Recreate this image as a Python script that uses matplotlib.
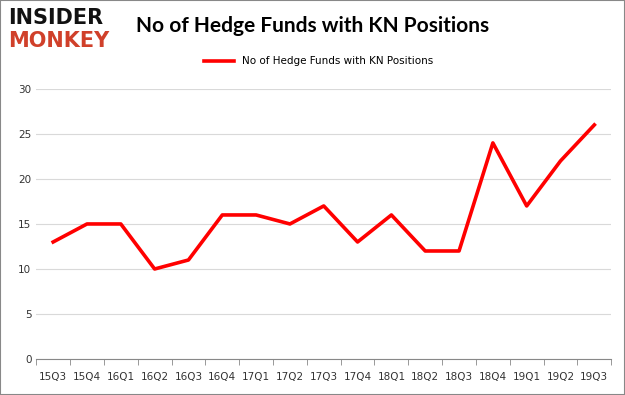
import matplotlib
matplotlib.use('Agg')
import matplotlib.pyplot as plt
from matplotlib.patches import Rectangle

quarters = ['15Q3', '15Q4', '16Q1', '16Q2', '16Q3', '16Q4', '17Q1', '17Q2', '17Q3',
            '17Q4', '18Q1', '18Q2', '18Q3', '18Q4', '19Q1', '19Q2', '19Q3']
funds = [13, 15, 15, 10, 11, 16, 16, 15, 17, 13, 16, 12, 12, 24, 17, 22, 26]
series_name = 'No of Hedge Funds with KN Positions'
title = 'No of Hedge Funds with KN Positions'

fig = plt.figure(figsize=(6.25, 3.95), dpi=100)
ax = fig.add_axes([0.058, 0.091, 0.92, 0.684])
x = range(len(quarters))
ax.plot(x, funds, color='#ff0000', lw=2.6, label=series_name)
ax.set_xlim(-0.5, len(quarters) - 0.5)
ax.set_ylim(0, 30)
ax.set_yticks(range(0, 31, 5))
ax.set_xticks([i - 0.5 for i in range(len(quarters) + 1)], minor=True)
ax.set_xticks(list(x))
ax.set_xticklabels(quarters)
ax.tick_params(axis='x', which='major', length=0, pad=9, labelsize=7.5, colors='#333333')
ax.tick_params(axis='x', which='minor', length=4, color='#888888')
ax.tick_params(axis='y', length=0, labelsize=7.5, colors='#333333')
ax.grid(axis='y', color='#d9d9d9', lw=0.8)
ax.set_axisbelow(True)
for s in ('top', 'right', 'left'):
    ax.spines[s].set_visible(False)
ax.spines['bottom'].set_color('#888888')

fig.text(0.5, 0.935, title, ha='center', va='center', fontsize=15, fontweight='bold',
         family='Lato')
leg = fig.legend(loc='center', bbox_to_anchor=(0.51, 0.845), frameon=False, fontsize=7.5,
                 handlelength=2.8)
fig.text(0.013, 0.955, 'INSIDER', fontsize=15, fontweight='bold', color='#111111', va='center')
fig.text(0.013, 0.895, 'MONKEY', fontsize=15, fontweight='bold', color='#d0402a', va='center')
fig.patches.append(Rectangle((0, 0), 1, 1, transform=fig.transFigure, fill=False,
                             edgecolor='#888888', lw=1.5))
fig.savefig('out.png', dpi=100)
